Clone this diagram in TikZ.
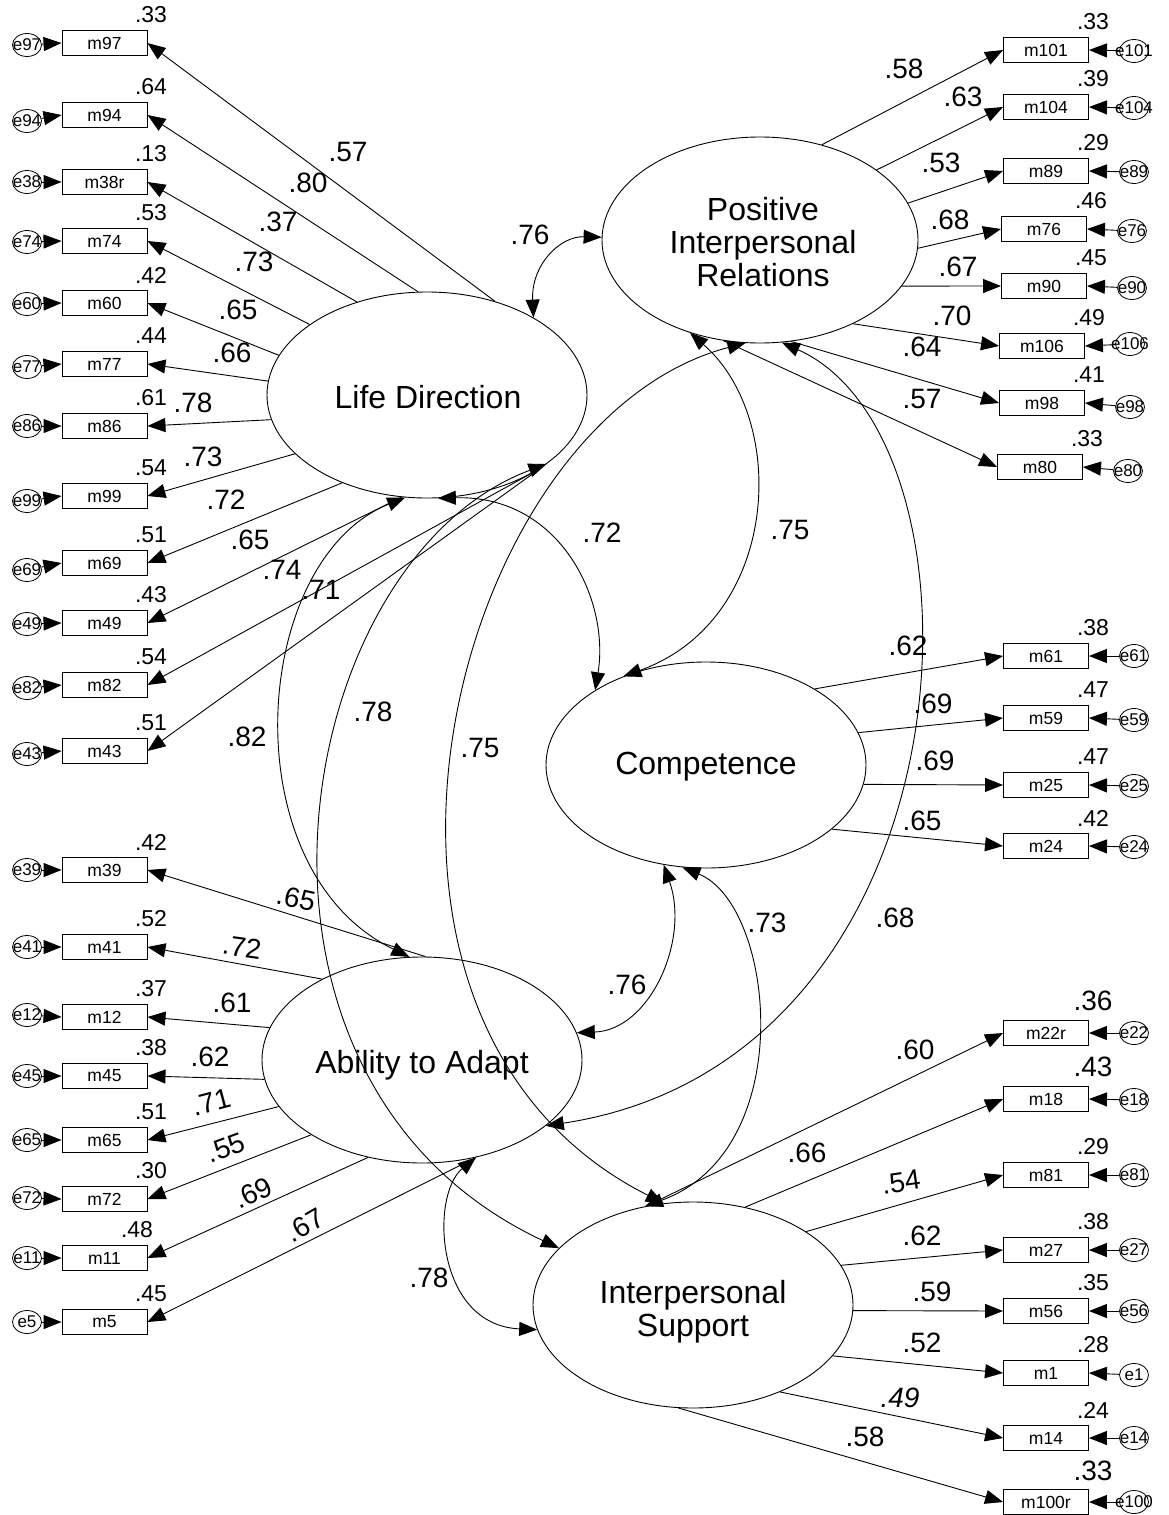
\documentclass[tikz,border=0pt]{standalone}
\usepackage{fontspec}
\setmainfont{Liberation Sans}
\usetikzlibrary{arrows.meta,shapes.geometric}
\begin{document}
\begin{tikzpicture}[x=1pt,y=-1pt,
  >={Triangle[length=18pt,width=14pt]},
  obs/.style={draw,line width=0.9pt,minimum width=85pt,minimum height=25.5pt,inner sep=0pt,font=\fontsize{17.5}{19}\selectfont},
  errc/.style={draw,ellipse,line width=0.8pt,minimum width=29pt,minimum height=23pt,inner sep=0pt},
  etxt/.style={inner sep=0pt,font=\fontsize{17}{19}\selectfont},
  lat/.style={draw,ellipse,line width=0.9pt,minimum width=320pt,minimum height=206pt,inner sep=0pt},
  lattxt/.style={inner sep=0pt,align=center,font=\fontsize{32}{33}\selectfont},
  lbl/.style={inner sep=0pt,font=\fontsize{28}{30}\selectfont},
  conn/.style={->,line width=0.9pt},
  covr/.style={<->,line width=0.9pt}
]
\fill[white] (0,0) rectangle (1168,1515);
\useasboundingbox (0,0) rectangle (1168,1515);

% latent variables
\node[lat] (LD) at (427,395) {};
\node[lat,minimum width=316pt] (PIR) at (760,240) {};
\node[lat] (CO) at (706,765) {};
\node[lat] (AA) at (422,1060) {};
\node[lat] (IS) at (693,1305) {};
\node[lattxt] (tLD) at (428,397) {Life Direction};
\node[lattxt] (tPIR) at (763,242) {Positive\\Interpersonal\\Relations};
\node[lattxt] (tCO) at (706,767) {Competence};
\node[lattxt] (tAA) at (422,1065) {Ability to Adapt};
\node[lattxt] (tIS) at (693,1312) {Interpersonal\\Support};

% left indicators
\foreach \nm/\en/\yy/\ey/\rv/\an/\rx/\lv in {
  97/97/43/45/.33/54/151/LD, 94/94/115/121/.64/95/151/LD, 38r/38/182/182/.13/127/151/LD,
  74/74/241/242/.53/149/151/LD, 60/60/303/304/.42/165/151/LD, 77/77/364/367/.44/175/151/LD,
  86/86/426/426/.61/189/151/LD, 99/99/496/501/.54/204/151/LD, 69/69/563/570/.51/226/151/LD,
  49/49/623/624/.43/256/151/LD, 82/82/685/688/.54/326/151/LD, 43/43/751/754/.51/328/151/LD,
  39/39/870/870/.42/88/151/AA, 41/41/947/947/.52/141/151/AA, 12/12/1017/1015/.37/168/151/AA,
  45/45/1076/1076/.38/187/151/AA, 65/65/1140/1140/.51/198/151/AA, 72/72/1199/1198/.30/214/151/AA,
  11/11/1258/1258/.48/241/137/AA, 5/5/1322/1322/.45/299/151/AA}{
  \node[obs] (m\nm) at (104.5,\yy) {m\nm};
  \node[inner sep=0pt,font=\fontsize{23}{25}\selectfont] (r\nm) at (\rx,\yy-28) {\rv};
  \node[errc] (e\en) at (27,\ey) {};
  \node[etxt] (te\en) at (e\en) {e\en};
  \draw[conn] (e\en) -- (m\nm.west);
  \draw[conn] (\lv.\an) -- (m\nm.east);
}

% right indicators
\foreach \nm/\en/\yy/\ey/\rv/\an/\bx/\fs/\ro/\lv in {
  101/101/50/51/.33/57/1046/23/28/PIR, 104/104/107/108/.39/31/1046/23/28/PIR,
  89/89/171/172/.29/14/1046/23/28/PIR, 76/76/229/231/.46/-3/1044/23/28/PIR,
  90/90/286/288/.45/-18/1044/23/28/PIR, 106/106/346/344/.49/-42/1042/23/28/PIR,
  98/98/403/407/.41/-73/1042/23/28/PIR, 80/80/467/471/.33/250/1040/23/28/PIR,
  61/61/656/656/.38/35/1046/23/28/CO, 59/59/718/720/.47/12/1046/23/28/CO,
  25/25/785/786/.47/-7/1046/23/28/CO, 24/24/846/847/.42/-27/1046/23/28/CO,
  22r/22/1033/1033/.36/115/1046/28/32/IS, 18/18/1099/1100/.43/62/1046/28/32/IS,
  81/81/1175/1175/.29/33/1046/23/28/IS, 27/27/1250/1250/.38/15/1046/23/28/IS,
  56/56/1311/1311/.35/-2/1046/23/28/IS, 1/1/1373/1375/.28/-20/1046/23/28/IS,
  14/14/1438/1438/.24/-45/1046/23/28/IS, 100r/100/1502/1502/.33/262/1046/28/31/IS}{
  \node[obs] (m\nm) at (\bx,\yy) {m\nm};
  \node[inner sep=0pt,font=\fontsize{\fs}{30}\selectfont] (r\nm) at (\bx+47,\yy-\ro) {\rv};
  \node[errc] (e\en) at (\bx+88,\ey) {};
  \node[etxt] (te\en) at (e\en) {e\en};
  \draw[conn] (e\en) -- (m\nm.east);
  \draw[conn] (\lv.\an) -- (m\nm.west);
}

% covariances
\draw[covr] (LD.36) .. controls (531,265) and (560,236) .. (PIR.179);
\draw[covr] (LD.276) .. controls (560,495) and (610,600) .. (CO.146);
\draw[covr] (PIR.233) .. controls (790,420) and (780,620) .. (CO.133);
\draw[covr] (LD.258) .. controls (250,560) and (230,870) .. (AA.97);
\draw[covr] (LD.330) .. controls (290,560) and (200,1080) .. (IS.157);
\draw[covr] (PIR.262) .. controls (450,420) and (300,1020) .. (IS.106);
\draw[covr] (PIR.282) .. controls (1000,440) and (980,1060) .. (AA.-28);
\draw[covr] (CO.247) .. controls (690,940) and (650,1030) .. (AA.10);
\draw[covr] (CO.257) .. controls (775,905) and (800,1150) .. (IS.116);
\draw[covr] (AA.299) .. controls (430,1195) and (435,1325) .. (IS.189);

% coefficient labels
\foreach \tx/\xx/\yy/\rr [count=\i] in {
  .57/348/152/0, .80/308/183/0, .37/278/222/0, .73/254/262/0, .65/238/310/0, .66/232/353/0,
  .78/193/403/0, .73/203/457/0, .72/226/500/0, .65/250/540/0, .74/282/570/0, .71/321/590/0,
  .65/296/898/-12, .72/242/947/-8, .61/232/1003/0, .62/210/1057/0, .71/211/1102/15,
  .55/226/1148/20, .69/253/1193/25, .67/305/1225/30,
  .58/904/69/0, .63/963/97/0, .53/941/163/0, .68/950/220/0, .67/958/267/0, .70/952/316/0,
  .64/922/347/0, .57/922/399/0,
  .62/908/646/0, .69/933/704/0, .69/935/761/0, .65/922/821/0,
  .60/915/1050/0, .66/807/1153/0, .54/901/1182/8, .62/922/1236/0, .59/932/1292/0,
  .52/922/1343/0, .58/865/1437/0,
  .76/530/235/0, .72/602/533/0, .75/790/530/0, .82/247/737/0, .78/373/712/0,
  .75/480/748/0, .76/627/985/0, .73/767/923/0, .68/895/918/0, .78/429/1278/0}{
  \node[lbl,rotate=\rr] (c\i) at (\xx,\yy) {\tx};
}
\node[lbl,font=\fontsize{28}{30}\selectfont\itshape] (c49) at (900,1398) {.49};
\end{tikzpicture}
\end{document}
